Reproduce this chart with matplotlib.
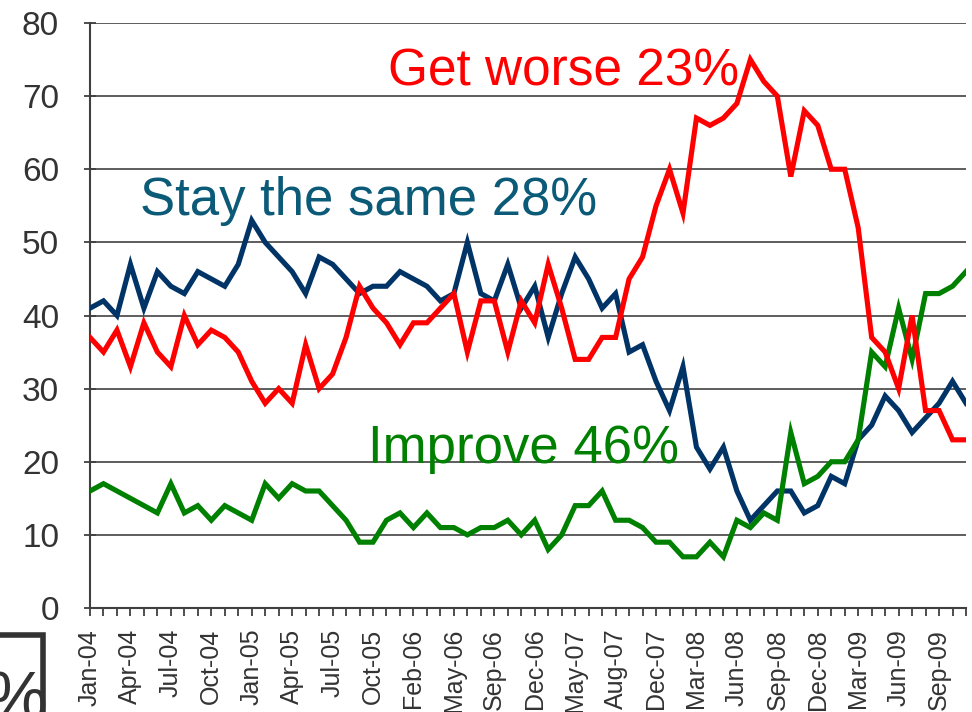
import matplotlib
matplotlib.use('Agg')
import matplotlib.pyplot as plt
from matplotlib.patches import Rectangle

plt.rcParams['font.family'] = ['Liberation Sans', 'DejaVu Sans']

# survey points, Jan-04 .. Nov-09 (one per poll)
stay_same = [41, 42, 40, 47, 41, 46, 44, 43, 46, 45, 44, 47, 53, 50, 48, 46, 43, 48, 47, 45,
             43, 44, 44, 46, 45, 44, 42, 43, 50, 43, 42, 47, 41, 44, 37, 43, 48, 45, 41, 43,
             35, 36, 31, 27, 33, 22, 19, 22, 16, 12, 14, 16, 16, 13, 14, 18, 17, 23, 25, 29,
             27, 24, 26, 28, 31, 28]
get_worse = [37, 35, 38, 33, 39, 35, 33, 40, 36, 38, 37, 35, 31, 28, 30, 28, 36, 30, 32, 37,
             44, 41, 39, 36, 39, 39, 41, 43, 35, 42, 42, 35, 42, 39, 47, 41, 34, 34, 37, 37,
             45, 48, 55, 60, 54, 67, 66, 67, 69, 75, 72, 70, 59, 68, 66, 60, 60, 52, 37, 35,
             30, 40, 27, 27, 23, 23]
improve = [16, 17, 16, 15, 14, 13, 17, 13, 14, 12, 14, 13, 12, 17, 15, 17, 16, 16, 14, 12,
           9, 9, 12, 13, 11, 13, 11, 11, 10, 11, 11, 12, 10, 12, 8, 10, 14, 14, 16, 12,
           12, 11, 9, 9, 7, 7, 9, 7, 12, 11, 13, 12, 24, 17, 18, 20, 20, 23, 35, 33,
           41, 34, 43, 43, 44, 46]

# every third point is labelled
tick_labels = ['Jan-04', 'Apr-04', 'Jul-04', 'Oct-04', 'Jan-05', 'Apr-05', 'Jul-05', 'Oct-05',
               'Feb-06', 'May-06', 'Sep-06', 'Dec-06', 'May-07', 'Aug-07', 'Dec-07', 'Mar-08',
               'Jun-08', 'Sep-08', 'Dec-08', 'Mar-09', 'Jun-09', 'Sep-09']

x = list(range(len(stay_same)))

fig = plt.figure(figsize=(9.72, 7.12), dpi=100)
ax = fig.add_axes([90 / 972, 1 - 608 / 712, 876 / 972, 585 / 712])

ax.plot(x, stay_same, color='#003366', lw=3.7, solid_joinstyle='miter', zorder=3)
ax.plot(x, get_worse, color='#ff0000', lw=3.7, solid_joinstyle='miter', zorder=4)
ax.plot(x, improve, color='#008000', lw=3.7, solid_joinstyle='miter', zorder=3)

ax.set_xlim(0, len(x) - 1)
ax.set_ylim(0, 80)
ax.set_yticks(range(0, 81, 10))
ax.yaxis.grid(True, color='#505050', lw=1.3)
ax.set_axisbelow(True)

ax.set_xticks(range(0, len(x), 3))
ax.set_xticklabels(tick_labels, rotation=90, fontsize=18, va='top')
ax.set_xticks(x, minor=True)

for s in ['top', 'right']:
    ax.spines[s].set_visible(False)
for s in ['left', 'bottom']:
    ax.spines[s].set_color('#404040')
    ax.spines[s].set_linewidth(1.5)

ax.tick_params(axis='y', labelsize=24, length=8.5, width=1.3, color='#404040', pad=18,
               direction='inout', labelcolor='#333333')
ax.tick_params(axis='x', which='both', length=6, width=1.3, color='#404040', pad=9,
               labelcolor='#333333')

ax.text(22.1, 71.5, 'Get worse 23%', color='#ff0000', fontsize=37, va='baseline', ha='left')
ax.text(3.7, 53.7, 'Stay the same 28%', color='#0b5a78', fontsize=38, va='baseline', ha='left')
ax.text(20.6, 19.8, 'Improve 46%', color='#008000', fontsize=38, va='baseline', ha='left')

# partial "%" box cut off in the lower-left corner
fig.patches.append(Rectangle((-20 / 972, -20 / 712), 63 / 972, 97 / 712,
                             transform=fig.transFigure, fill=False,
                             edgecolor='#333333', lw=4))
fig.text(-14 / 972, -22 / 712, '%', fontsize=50, color='#333333', ha='left', va='bottom')

fig.savefig('out.png', dpi=100)
